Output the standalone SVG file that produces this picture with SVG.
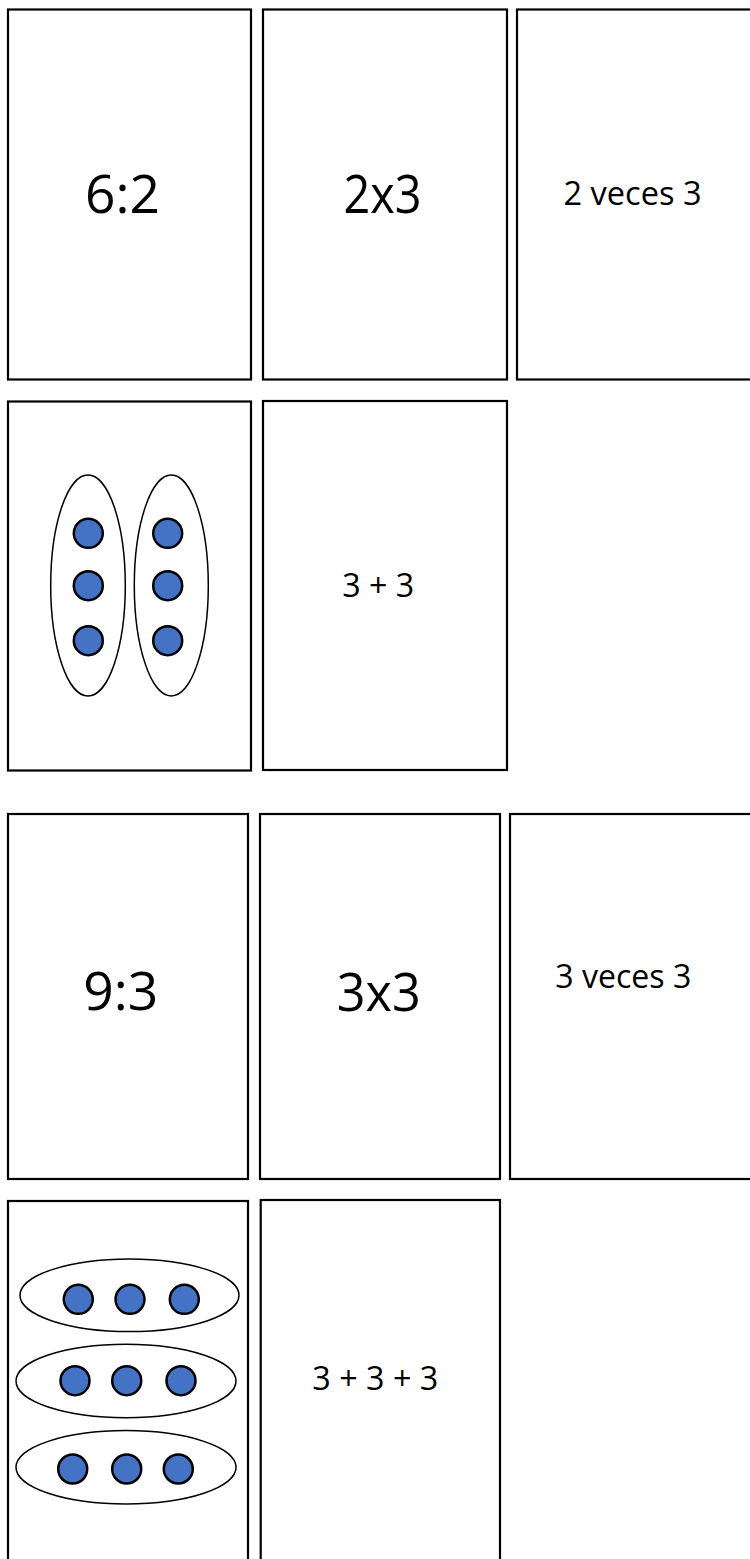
<svg xmlns="http://www.w3.org/2000/svg" width="750" height="1559" viewBox="0 0 750 1559">
<style>
.card{fill:#fff;stroke:#000;stroke-width:2.2}
.grp{fill:#fff;stroke:#000;stroke-width:1.5}
.dot{fill:#4472C4;stroke:#000;stroke-width:2.5}
.big{font-family:"Open Sans","Liberation Sans",sans-serif;font-size:53px;fill:#000;text-anchor:middle}
.sm{font-family:"Open Sans","Liberation Sans",sans-serif;font-size:33px;fill:#000;text-anchor:middle}
</style>
<rect width="750" height="1559" fill="#fff"/>
<g id="card-6div2"><rect class="card" x="8" y="9.5" width="243" height="370"/><text class="big" x="122.5" y="213.3" textLength="75" lengthAdjust="spacingAndGlyphs">6:2</text></g>
<g id="card-2x3"><rect class="card" x="263" y="9.5" width="244" height="370"/><text class="big" x="382.5" y="213.3" textLength="78" lengthAdjust="spacingAndGlyphs">2x3</text></g>
<g id="card-2veces3"><rect class="card" x="517" y="9.5" width="245" height="370"/><text class="sm" x="632.5" y="205" textLength="138" lengthAdjust="spacingAndGlyphs">2 veces 3</text></g>
<g id="card-dots-2x3"><rect class="card" x="8" y="401.5" width="243" height="369"/>
<ellipse class="grp" cx="88" cy="585.5" rx="37.3" ry="110.5"/>
<ellipse class="grp" cx="171.3" cy="585.5" rx="37" ry="110.5"/>
<circle class="dot" cx="88.3" cy="533.3" r="14.5"/><circle class="dot" cx="88.3" cy="585.7" r="14.5"/><circle class="dot" cx="88.3" cy="640.7" r="14.5"/>
<circle class="dot" cx="167.7" cy="533.3" r="14.5"/><circle class="dot" cx="167.7" cy="585.7" r="14.5"/><circle class="dot" cx="167.7" cy="640.7" r="14.5"/>
</g>
<g id="card-3plus3"><rect class="card" x="263" y="401" width="244" height="369"/><text class="sm" x="378.3" y="596.7" textLength="72" lengthAdjust="spacingAndGlyphs">3 + 3</text></g>
<g id="card-9div3"><rect class="card" x="8" y="814" width="240" height="365"/><text class="big" x="120.8" y="1010" textLength="75" lengthAdjust="spacingAndGlyphs">9:3</text></g>
<g id="card-3x3"><rect class="card" x="260" y="814" width="240" height="365"/><text class="big" x="378.8" y="1010.7" textLength="84" lengthAdjust="spacingAndGlyphs">3x3</text></g>
<g id="card-3veces3"><rect class="card" x="510" y="814" width="245" height="365"/><text class="sm" x="623.3" y="988.3" textLength="136" lengthAdjust="spacingAndGlyphs">3 veces 3</text></g>
<g id="card-dots-3x3"><rect class="card" x="8" y="1201" width="240" height="370"/>
<ellipse class="grp" cx="129.5" cy="1295.3" rx="109.5" ry="36.3"/>
<ellipse class="grp" cx="126" cy="1381" rx="110" ry="36.7"/>
<ellipse class="grp" cx="126" cy="1467.3" rx="110" ry="36.7"/>
<circle class="dot" cx="78.3" cy="1299.3" r="14.5"/><circle class="dot" cx="130" cy="1299.3" r="14.5"/><circle class="dot" cx="184.3" cy="1299.3" r="14.5"/>
<circle class="dot" cx="75" cy="1380.7" r="14.5"/><circle class="dot" cx="126.7" cy="1380.7" r="14.5"/><circle class="dot" cx="181" cy="1380.7" r="14.5"/>
<circle class="dot" cx="72.7" cy="1469" r="14.5"/><circle class="dot" cx="126.7" cy="1469" r="14.5"/><circle class="dot" cx="178.3" cy="1469" r="14.5"/>
</g>
<g id="card-3plus3plus3"><rect class="card" x="260.7" y="1200" width="239.3" height="370"/><text class="sm" x="375.3" y="1390" textLength="126" lengthAdjust="spacingAndGlyphs">3 + 3 + 3</text></g>
<g id="connectors"></g>
</svg>
